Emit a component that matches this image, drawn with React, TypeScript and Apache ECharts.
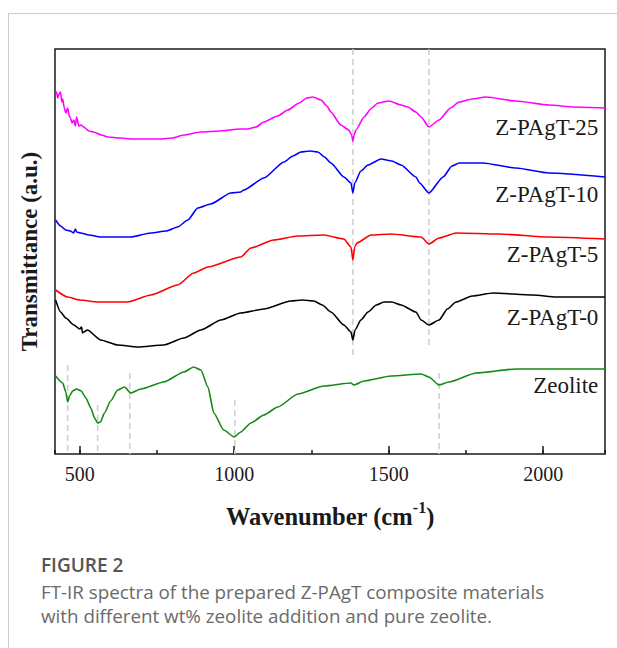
import React, { useEffect, useRef } from "react";
import * as echarts from "echarts";

// Wavenumber (cm-1) vs offset transmittance (a.u.)
const pagt25: [number, number][] = [
  [422, 361], [425, 362], [429, 356], [433, 360], [438, 362], [442, 352], [445, 355], [450, 346], [455, 341],
  [461, 346], [466, 338], [470, 336], [475, 331], [481, 334], [486, 328], [490, 337], [497, 328], [505, 329],
  [513, 327], [530, 323], [545, 322], [570, 319], [591, 317], [630, 316], [672, 315], [720, 315], [762, 315],
  [800, 316], [837, 319], [892, 322], [950, 323], [1021, 325], [1044, 325], [1070, 327], [1096, 332],
  [1140, 338], [1174, 344], [1210, 351], [1235, 356], [1255, 357], [1281, 354], [1300, 348], [1313, 342],
  [1345, 329], [1371, 324], [1380, 319], [1384, 313], [1388, 319], [1394, 324], [1420, 337], [1445, 346],
  [1465, 351], [1501, 353], [1540, 349], [1562, 347], [1588, 342], [1605, 337], [1630, 327], [1663, 334],
  [1700, 346], [1728, 352], [1770, 355], [1815, 357], [1912, 353], [2019, 349], [2100, 347], [2200, 346],
];
const pagt10: [number, number][] = [
  [422, 234], [438, 228], [455, 224], [470, 223], [480, 221], [486, 225], [490, 222], [503, 221], [530, 219],
  [568, 217], [620, 217], [665, 217], [730, 221], [780, 223], [817, 227], [850, 234], [882, 246], [924, 250],
  [989, 261], [1021, 262], [1031, 264], [1096, 276], [1161, 292], [1190, 298], [1216, 302], [1245, 303],
  [1271, 302], [1292, 297], [1313, 291], [1355, 277], [1378, 271], [1384, 261], [1390, 271], [1410, 283],
  [1433, 289], [1475, 295], [1510, 293], [1540, 289], [1588, 277], [1600, 271], [1630, 261], [1676, 277],
  [1705, 288], [1728, 291], [1805, 291], [1912, 286], [2019, 281], [2200, 277],
];
const pagt5: [number, number][] = [
  [422, 164], [461, 157], [500, 154], [558, 152], [655, 152], [730, 159], [817, 169], [869, 181], [915, 187],
  [1021, 197], [1054, 206], [1128, 214], [1206, 218], [1290, 219], [1355, 215], [1378, 207], [1384, 194],
  [1390, 207], [1397, 211], [1443, 219], [1507, 220], [1605, 217], [1630, 210], [1663, 216], [1718, 221],
  [1857, 220], [2019, 217], [2200, 215],
];
const pagt0: [number, number][] = [
  [422, 154], [438, 142], [455, 136], [481, 129], [500, 125], [506, 127], [509, 121], [513, 122], [525, 124],
  [568, 114], [623, 109], [688, 107], [772, 109], [837, 116], [892, 124], [957, 134], [1021, 141], [1096, 145],
  [1183, 153], [1220, 154], [1258, 153], [1285, 149], [1313, 142], [1355, 129], [1378, 122], [1384, 114],
  [1391, 124], [1410, 134], [1433, 142], [1460, 149], [1485, 152], [1510, 152], [1540, 149], [1588, 142],
  [1605, 134], [1630, 129], [1663, 134], [1690, 145], [1718, 152], [1770, 158], [1838, 161], [1967, 159],
  [2042, 157], [2200, 157],
];
const zeolite: [number, number][] = [
  [422, 78], [445, 71], [455, 62], [461, 52], [467, 58], [477, 63], [490, 65], [505, 63], [520, 56], [536, 46],
  [548, 36], [558, 31], [567, 32], [580, 41], [600, 53], [623, 64], [645, 67], [665, 61], [698, 65], [772, 72],
  [837, 82], [869, 87], [892, 84], [915, 67], [934, 41], [966, 24], [1000, 17], [1021, 22], [1054, 31],
  [1096, 39], [1141, 47], [1206, 60], [1290, 68], [1378, 71], [1387, 69], [1420, 73], [1507, 78], [1605, 80],
  [1630, 77], [1663, 69], [1695, 72], [1783, 81], [1912, 85], [2200, 85],
];

const seriesNames = ["Z-PAgT-25", "Z-PAgT-10", "Z-PAgT-5", "Z-PAgT-0", "Zeolite"];
const seriesData = [pagt25, pagt10, pagt5, pagt0, zeolite];
const seriesColors = ["#ff00ff", "#0000ff", "#ff0000", "#000000", "#138a13"];
// label anchor (right edge) per series: [wavenumber, value]
const labelAnchors: [number, number][] = [[2180, 327], [2180, 260], [2180, 200], [2180, 137], [2180, 69]];

// dashed reference lines: [wavenumber, from, to]
const refLines: [number, number, number][] = [
  [1384, 405, 99], [1630, 405, 109],
  [461, 89, 0], [558, 49, 0], [662, 81, 0], [1002, 54, 0], [1663, 81, 0],
];

const captionTitle = "FIGURE 2";
const captionLines = [
  "FT-IR spectra of the prepared Z-PAgT composite materials",
  "with different wt% zeolite addition and pure zeolite.",
];

const SERIF = "'Liberation Serif', 'Times New Roman', serif";
const SANS = "'Open Sans', 'Noto Sans', sans-serif";

export default function App() {
  const ref = useRef<HTMLDivElement>(null);
  useEffect(() => {
    const chart = echarts.init(ref.current!, null, { renderer: "svg" });
    const dashed = refLines.map(([w, a, b]) => ({
      type: "line",
      data: [[w, a], [w, b]],
      showSymbol: false,
      silent: true,
      z: 1,
      lineStyle: { color: "#cfcfcf", width: 1.6, type: [6, 4] },
    }));
    const curves = seriesData.map((d, i) => ({
      type: "line",
      name: seriesNames[i],
      data: d,
      showSymbol: false,
      smooth: 0.2,
      smoothMonotone: "x",
      z: 3,
      lineStyle: { color: seriesColors[i], width: 1.6 },
      markPoint: {
        symbol: "circle",
        symbolSize: 1,
        silent: true,
        itemStyle: { color: "transparent" },
        label: {
          show: true,
          position: "left",
          distance: 0,
          formatter: seriesNames[i],
          color: "#1a1a1a",
          fontFamily: SERIF,
          fontSize: 23,
        },
        data: [{ coord: labelAnchors[i] }],
      },
    }));
    chart.setOption({
      animation: false,
      backgroundColor: "#ffffff",
      grid: {
        left: 55,
        right: 12,
        top: 49,
        bottom: 194,
        show: true,
        borderColor: "#1a1a1a",
        borderWidth: 1.5,
        backgroundColor: "transparent",
      },
      xAxis: [
        {
          type: "value",
          position: "bottom",
          min: 420,
          max: 2200,
          minInterval: 500,
          maxInterval: 500,
          axisLine: { show: false },
          splitLine: { show: false },
          axisTick: { show: true, inside: true, length: 8, lineStyle: { color: "#1a1a1a", width: 1.5 } },
          axisLabel: {
            show: true,
            margin: 10,
            color: "#1a1a1a",
            fontFamily: SERIF,
            fontSize: 20,
            showMinLabel: false,
            showMaxLabel: false,
            formatter: (v: number) => (v % 500 === 0 ? String(v) : ""),
          },
          name: "{a|Wavenumber (cm}{s|-1}{a|)}",
          nameLocation: "middle",
          nameGap: 45,
          nameTextStyle: {
            rich: {
              a: { fontFamily: SERIF, fontWeight: "bold", fontSize: 24.5, color: "#1a1a1a", verticalAlign: "bottom", lineHeight: 30 },
              s: { fontFamily: SERIF, fontWeight: "bold", fontSize: 16, color: "#1a1a1a", verticalAlign: "top", lineHeight: 30 },
            },
          },
        },
        {
          type: "value",
          position: "bottom",
          min: 420,
          max: 2200,
          minInterval: 250,
          maxInterval: 250,
          axisLine: { show: false },
          splitLine: { show: false },
          axisTick: { show: true, inside: true, length: 4, lineStyle: { color: "#1a1a1a", width: 1.5 } },
          axisLabel: { show: false },
        },
      ],
      yAxis: {
        type: "value",
        min: 0,
        max: 405,
        axisLine: { show: false },
        axisTick: { show: false },
        axisLabel: { show: false },
        splitLine: { show: false },
        name: "Transmittance (a.u.)",
        nameLocation: "middle",
        nameGap: 14,
        nameRotate: 90,
        nameTextStyle: { fontFamily: SERIF, fontWeight: "bold", fontSize: 23, color: "#1a1a1a" },
      },
      graphic: [
        { type: "line", silent: true, shape: { x1: 8, y1: 13.5, x2: 617, y2: 13.5 }, style: { stroke: "#cccccc", lineWidth: 1 } },
        { type: "line", silent: true, shape: { x1: 8.5, y1: 13, x2: 8.5, y2: 648 }, style: { stroke: "#cccccc", lineWidth: 1 } },
        {
          type: "text", left: 41, top: 555,
          style: { text: captionTitle, fontFamily: SANS, fontSize: 19, fontWeight: 600, fill: "#555555" },
        },
        {
          type: "text", left: 41, top: 580,
          style: { text: captionLines.join("\n"), fontFamily: SANS, fontSize: 18.8, lineHeight: 24, fill: "#6a6a6a" },
        },
      ],
      series: [...dashed, ...curves],
    });
    return () => chart.dispose();
  }, []);
  return (
    <div
      ref={ref}
      style={{ position: "fixed", left: 0, top: 0, width: 617, height: 648, background: "#fff" }}
    />
  );
}
